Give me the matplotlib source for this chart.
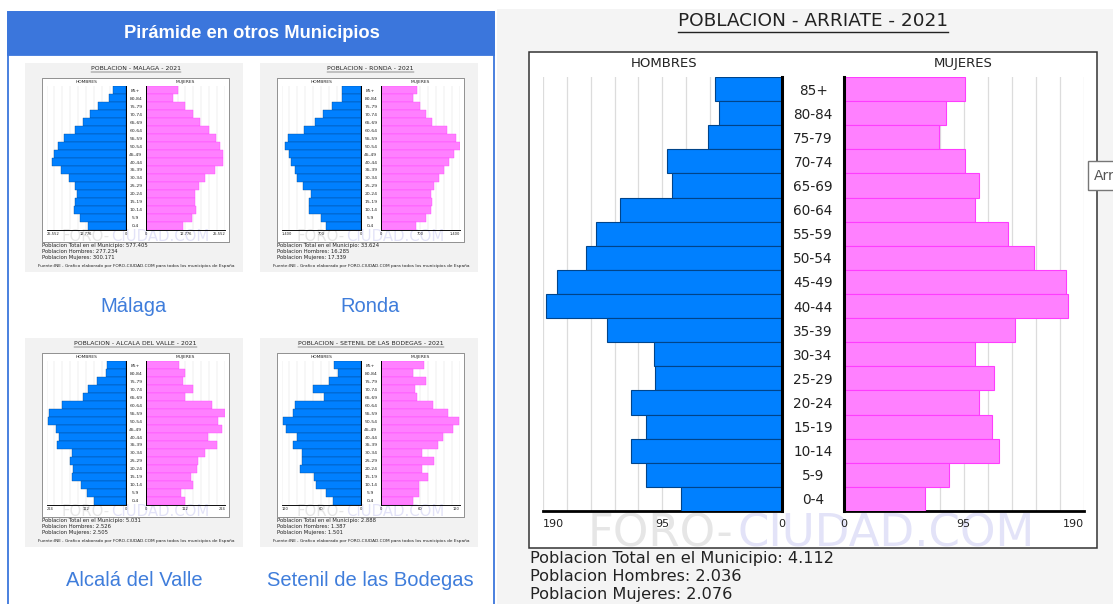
import numpy as np
import matplotlib
matplotlib.use("Agg")
import matplotlib.pyplot as plt
from matplotlib.patches import Rectangle

W, H = 1113, 604
BLUE, PINK = "#0080ff", "#ff80ff"
BLUE_EDGE, PINK_EDGE = "#00448a", "#ff3cff"
GRID, INK, HEAD = "#dcdcdc", "#222222", "#3b76dc"

# age groups, top of the pyramid first
AGES = ["85+", "80-84", "75-79", "70-74", "65-69", "60-64", "55-59", "50-54", "45-49",
        "40-44", "35-39", "30-34", "25-29", "20-24", "15-19", "10-14", "5-9", "0-4"]

# Arriate 2021 (main chart)
arriate_men = [53, 50, 59, 91, 87, 129, 148, 156, 179, 187, 139, 102, 101, 120, 108, 120, 108, 80]
arriate_women = [96, 81, 75, 96, 107, 104, 130, 151, 176, 178, 136, 104, 119, 107, 117, 123, 83, 64]
arriate_stats = ["Poblacion Total en el Municipio: 4.112",
                 "Poblacion Hombres: 2.036", "Poblacion Mujeres: 2.076"]

# thumbnails
malaga_men = [4000, 5500, 8750, 11500, 13750, 16250, 20000, 21750, 23250, 23750, 21000, 18250,
              16500, 15750, 16250, 16750, 14750, 12250]
malaga_women = [10500, 8750, 12500, 15250, 17500, 20500, 22750, 24000, 24750, 25000, 22250, 19000,
                17250, 15750, 16000, 16250, 14750, 12000]
ronda_men = [336, 336, 504, 658, 812, 994, 1288, 1330, 1274, 1232, 1162, 1134, 1022, 882, 910, 910, 700, 616]
ronda_women = [644, 560, 686, 798, 896, 1162, 1330, 1400, 1302, 1204, 1120, 1036, 938, 882, 910, 882, 798, 616]
alcala_men = [52, 54, 81, 105, 121, 181, 217, 220, 197, 190, 193, 152, 157, 150, 152, 125, 108, 90]
alcala_women = [94, 112, 105, 132, 112, 186, 224, 204, 215, 175, 202, 166, 148, 146, 128, 132, 99, 112]
setenil_men = [41, 34, 48, 72, 55, 100, 103, 118, 113, 96, 102, 89, 89, 92, 70, 68, 52, 42]
setenil_women = [66, 48, 68, 52, 54, 79, 102, 118, 109, 94, 86, 62, 80, 62, 71, 58, 58, 48]

FUENTE = "Fuente:INE , Grafico elaborado por FORO-CIUDAD.COM para todos los municipios de España"

fig = plt.figure(figsize=(W / 100, H / 100), dpi=100)
fig.patch.set_facecolor("white")
bg = fig.add_axes([0, 0, 1, 1])
bg.set_xlim(0, W); bg.set_ylim(H, 0); bg.axis("off")
R = fig.canvas.get_renderer()


def box(x, y, w, h):
    return [x / W, 1 - (y + h) / H, w / W, h / H]


def pyramid(ox, oy, s, title, men, women, xmax, labels, stats, thumb=True):
    if thumb:
        bg.add_patch(Rectangle((ox - 51 * s, oy - 45 * s), 660 * s, 633 * s, fc="#f2f2f2", ec="none"))
    bg.add_patch(Rectangle((ox, oy), 568 * s, 496 * s, fc="white", ec="#333333", lw=1.1 * s))
    t = bg.text(ox + 284 * s, oy - 30 * s, title, ha="center", va="center", fontsize=13.3 * s, color=INK)
    bb = t.get_window_extent(renderer=R)
    (x0, _), (x1, _) = bg.transData.inverted().transform([[bb.x0, bb.y0], [bb.x1, bb.y0]])
    bg.plot([x0, x1], [oy - 19.5 * s] * 2, color=INK, lw=1.0 * s)
    bg.text(ox + 135 * s, oy + 12 * s, "HOMBRES", ha="center", va="center", fontsize=9.5 * s, color=INK)
    bg.text(ox + 434 * s, oy + 12 * s, "MUJERES", ha="center", va="center", fontsize=9.5 * s, color=INK)
    # watermark
    bg.text(ox + 59 * s, oy + 495 * s, "FORO-", fontsize=32.5 * s, color="#e6e6e6", va="baseline")
    bg.text(ox + 208.5 * s, oy + 495 * s, "CIUDAD.COM", fontsize=32.5 * s, color="#e3e3f8", va="baseline")

    y = np.arange(len(AGES))[::-1]
    axl = fig.add_axes(box(ox + 13.7 * s, oy + 25.5 * s, 239.4 * s, 434 * s))
    axr = fig.add_axes(box(ox + 315.1 * s, oy + 25.5 * s, 239.4 * s, 434 * s))
    axl.barh(y, men, height=1.0, color=BLUE, edgecolor=BLUE_EDGE, lw=0.8 * s, zorder=3)
    axr.barh(y, women, height=1.0, color=PINK, edgecolor=PINK_EDGE, lw=0.8 * s, zorder=3)
    axl.set_xlim(xmax, 0); axr.set_xlim(0, xmax)
    for ax in (axl, axr):
        ax.set_facecolor("none")
        ax.set_ylim(-0.5, len(AGES) - 0.5)
        ax.axvline(0, color="black", lw=2.2 * s, clip_on=False, zorder=4)
        ax.set_xticks(np.linspace(0, xmax, 11), minor=True)
        ax.grid(True, which="both", axis="x", color=GRID, lw=0.9 * s)
        ax.set_axisbelow(True)
        ax.tick_params(axis="x", which="both", length=0, pad=6 * s, labelsize=8 * s, labelcolor=INK)
        for sp in ("top", "left", "right"):
            ax.spines[sp].set_visible(False)
        ax.spines["bottom"].set_color("black"); ax.spines["bottom"].set_linewidth(2 * s)
    axl.set_xticks([xmax, xmax / 2, 0]); axl.set_xticklabels(labels)
    axl.get_xticklabels()[0].set_ha("left")
    axr.set_xticks([0, xmax / 2, xmax]); axr.set_xticklabels(labels[::-1])
    axr.get_xticklabels()[2].set_ha("right")
    axr.set_yticks([])
    axl.yaxis.tick_right()
    axl.set_yticks(y); axl.set_yticklabels(AGES, fontsize=9.8 * s, color=INK)
    for lab in axl.get_yticklabels():
        lab.set_ha("center")
    axl.tick_params(axis="y", length=0, pad=31 * s * 0.72)

    for i, line in enumerate(stats):
        bg.text(ox + 1 * s, oy + (507 + 18 * i) * s, line, fontsize=11.6 * s, va="center", color=INK)
    if thumb:
        bg.text(ox - 12 * s, oy + 570 * s, FUENTE, fontsize=9.3 * s, va="center", color=INK)


# right hand side: main chart
bg.add_patch(Rectangle((497, 9), 620, 600, fc="#f4f4f4", ec="none"))
pyramid(529, 51.5, 1.0, "POBLACION - ARRIATE - 2021", arriate_men, arriate_women, 190,
        ["190", "95", "0"], arriate_stats, thumb=False)
# tooltip fragment
bg.add_patch(Rectangle((1088, 161), 40, 29, fc="white", ec="#777777", lw=1, zorder=5))
bg.text(1094, 176, "Arr", fontsize=10, color="#555555", va="center", zorder=6)

# left panel
bg.add_patch(Rectangle((7.5, 11.5), 486.5, 600, fc="white", ec=HEAD, lw=1.3))
bg.add_patch(Rectangle((7.5, 11.5), 486.5, 43, fc=HEAD, ec=HEAD, lw=1.3))
bg.text(252, 33, "Pirámide en otros Municipios", color="white", fontsize=13.2, fontweight="bold",
        ha="center", va="center", family="Liberation Sans")

s = 0.33
pyramid(42, 78, s, "POBLACION - MALAGA - 2021", malaga_men, malaga_women, 25552,
        ["25.552", "12.776", "0"],
        ["Poblacion Total en el Municipio: 577.405", "Poblacion Hombres: 277.234",
         "Poblacion Mujeres: 300.171"])
pyramid(277, 78, s, "POBLACION - RONDA - 2021", ronda_men, ronda_women, 1400,
        ["1.400", "700", "0"],
        ["Poblacion Total en el Municipio: 33.624", "Poblacion Hombres: 16.285",
         "Poblacion Mujeres: 17.339"])
pyramid(42, 353, s, "POBLACION - ALCALA DEL VALLE - 2021", alcala_men, alcala_women, 224,
        ["224", "112", "0"],
        ["Poblacion Total en el Municipio: 5.031", "Poblacion Hombres: 2.526",
         "Poblacion Mujeres: 2.505"])
pyramid(277, 353, s, "POBLACION - SETENIL DE LAS BODEGAS - 2021", setenil_men, setenil_women, 120,
        ["120", "60", "0"],
        ["Poblacion Total en el Municipio: 2.888", "Poblacion Hombres: 1.387",
         "Poblacion Mujeres: 1.501"])

for txt, x, yy in [("Málaga", 134, 307), ("Ronda", 370, 307),
                   ("Alcalá del Valle", 134, 581), ("Setenil de las Bodegas", 370, 581)]:
    bg.text(x, yy, txt, color="#3f7ddb", fontsize=14.5, ha="center", va="center",
            family="Liberation Sans")

fig.savefig("out.png", dpi=100)
